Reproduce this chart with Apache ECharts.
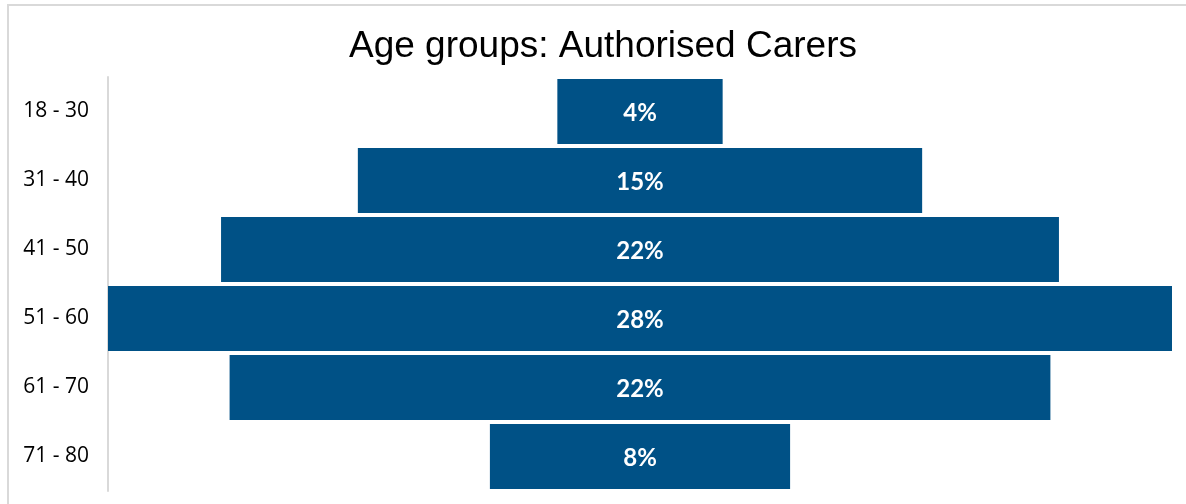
<!DOCTYPE html>
<html>
<head>
<meta charset="utf-8">
<script src="https://cdn.jsdelivr.net/npm/echarts@6/dist/echarts.min.js"></script>
<style>
  html, body { margin: 0; padding: 0; background: #fff; }
  #chart { width: 1186px; height: 504px; }
</style>
</head>
<body>
<div id="chart"></div>
<script>
const categories = ['18 - 30', '31 - 40', '41 - 50', '51 - 60', '61 - 70', '71 - 80']
// share of carers in each age group, %
const shares = [4.35, 14.85, 22.05, 28.0, 21.6, 7.9]
const axisMax = 28

const chart = echarts.init(document.getElementById('chart'))
// invisible spacer so each bar sits centred
const spacer = shares.map(v => (axisMax - v) / 2)

chart.setOption({
  animation: false,
  title: {
    text: 'Age groups: Authorised Carers',
    left: 598,
    textAlign: 'center',
    top: 23,
    textStyle: { fontFamily: 'Liberation Sans', fontSize: 37, fontWeight: 'normal', color: '#000' }
  },
  graphic: [{
    type: 'rect',
    shape: { x: 8, y: 5, width: 1200, height: 520 },
    style: { fill: 'none', stroke: '#d9d9d9', lineWidth: 2 },
    silent: true
  }],
  grid: { left: 108, right: 14, top: 77, bottom: 13 },
  xAxis: {
    type: 'value',
    min: 0,
    max: axisMax,
    show: false
  },
  yAxis: {
    type: 'category',
    inverse: true,
    data: categories,
    axisLine: { lineStyle: { color: '#d9d9d9', width: 2 } },
    axisTick: { show: false },
    axisLabel: { fontFamily: 'Open Sans', fontSize: 21, color: '#000', margin: 19 }
  },
  series: [
    {
      type: 'bar',
      stack: 'total',
      data: spacer,
      itemStyle: { color: 'transparent' },
      silent: true,
      barCategoryGap: '6%'
    },
    {
      type: 'bar',
      stack: 'total',
      data: shares,
      barCategoryGap: '6%',
      itemStyle: { color: '#005186' },
      label: {
        show: true,
        position: 'inside',
        offset: [0, 2],
        fontFamily: 'Lato',
        fontWeight: 'bold',
        fontSize: 24,
        color: '#fff',
        formatter: p => Math.round(p.value) + '%'
      }
    }
  ]
})
window.addEventListener('resize', () => chart.resize())
</script>
</body>
</html>
